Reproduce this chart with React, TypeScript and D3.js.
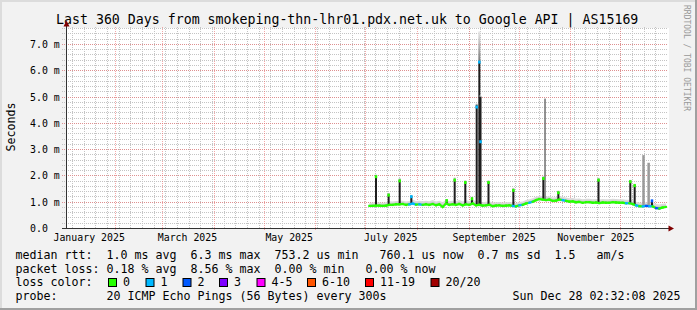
import React from "react";
import * as d3 from "d3";

const W = 697;
const H = 310;
const FONT = "'DejaVu Sans Mono', monospace";

const title = "Last 360 Days from smokeping-thn-lhr01.pdx.net.uk to Google API | AS15169";
const yAxisTitle = "Seconds";
const watermark = "RRDTOOL / TOBI OETIKER";

const windowEnd = "2025-12-28T02:32:08Z";
const windowDays = 360;
const yMax = 7.607;

const yTickValues = [0, 1, 2, 3, 4, 5, 6, 7];
const yTickLabels = ["0.0", "1.0 m", "2.0 m", "3.0 m", "4.0 m", "5.0 m", "6.0 m", "7.0 m"];
const monthLabelDates = ["2025-01-01", "2025-03-01", "2025-05-01", "2025-07-01", "2025-09-01", "2025-11-01"];
const monthLabels = ["January 2025", "March 2025", "May 2025", "July 2025", "September 2025", "November 2025"];

// samples every 2 days from the first data point
const sampleStart = "2025-07-03T02:32:08Z";
const sampleStepDays = 2;
const median = [
  0.86, 0.86, 0.87, 0.87, 0.86, 0.87, 0.90, 0.90, 0.92, 0.92,
  0.93, 0.90, 0.92, 0.95, 0.91, 0.92, 0.90, 0.92, 0.90, 0.93,
  0.89, 0.92, 0.82, 0.95, 0.90, 0.92, 0.90, 0.93, 0.88, 0.92,
  0.90, 0.95, 0.88, 0.90, 0.87, 0.88, 0.90, 0.85, 0.87, 0.88,
  0.86, 0.87, 0.88, 0.86, 0.84, 0.88, 0.90, 0.95, 0.98, 1.02,
  1.08, 1.12, 1.10, 1.08, 1.10, 1.05, 1.06, 1.10, 1.08, 1.05,
  1.02, 1.03, 1.00, 1.01, 0.98, 1.00, 1.00, 0.98, 0.99, 0.97,
  0.99, 0.98, 0.98, 1.00, 0.99, 0.98, 0.98, 0.96, 0.96, 0.93,
  0.88, 0.85, 0.84, 0.86, 0.85, 0.84, 0.78, 0.76, 0.80, 0.82,
];
const smokeHi = [
  0.98, 0.99, 1.00, 0.99, 0.98, 1.00, 1.04, 1.03, 1.05, 1.06,
  1.06, 1.03, 1.05, 1.10, 1.05, 1.06, 1.04, 1.06, 1.04, 1.08,
  1.03, 1.06, 1.00, 1.09, 1.04, 1.06, 1.05, 1.08, 1.03, 1.07,
  1.05, 1.10, 1.03, 1.04, 1.00, 1.02, 1.04, 0.99, 1.00, 1.01,
  0.99, 1.00, 1.01, 0.99, 0.97, 1.01, 1.03, 1.08, 1.11, 1.15,
  1.21, 1.25, 1.24, 1.21, 1.23, 1.18, 1.19, 1.23, 1.21, 1.18,
  1.15, 1.16, 1.13, 1.14, 1.11, 1.13, 1.13, 1.11, 1.12, 1.10,
  1.12, 1.11, 1.11, 1.13, 1.12, 1.11, 1.11, 1.09, 1.09, 1.07,
  1.02, 0.99, 0.98, 1.00, 0.99, 0.98, 0.93, 0.91, 0.94, 0.95,
];
const smokeLo = [
  0.81, 0.81, 0.82, 0.82, 0.81, 0.82, 0.85, 0.85, 0.86, 0.87,
  0.88, 0.85, 0.87, 0.89, 0.86, 0.87, 0.85, 0.87, 0.85, 0.88,
  0.84, 0.87, 0.77, 0.89, 0.85, 0.87, 0.85, 0.88, 0.83, 0.87,
  0.85, 0.89, 0.83, 0.85, 0.82, 0.83, 0.85, 0.80, 0.82, 0.83,
  0.81, 0.82, 0.83, 0.81, 0.79, 0.83, 0.85, 0.90, 0.93, 0.97,
  1.02, 1.06, 1.05, 1.03, 1.04, 1.00, 1.01, 1.04, 1.03, 1.00,
  0.97, 0.98, 0.95, 0.96, 0.93, 0.95, 0.95, 0.93, 0.94, 0.92,
  0.94, 0.93, 0.93, 0.95, 0.94, 0.93, 0.93, 0.91, 0.91, 0.88,
  0.83, 0.80, 0.79, 0.81, 0.80, 0.79, 0.73, 0.71, 0.75, 0.77,
];
const loss = [
  0, 0, 0, 0, 0, 0, 0, 0, 0, 0,
  0, 0, 0, 1, 1, 0, 1, 0, 0, 0,
  0, 0, 0, 0, 0, 0, 0, 0, 0, 0,
  0, 0, 0, 0, 0, 0, 0, 0, 0, 0,
  0, 0, 0, 0, 1, 0, 1, 0, 0, 1,
  0, 0, 0, 0, 0, 0, 0, 0, 0, 1,
  0, 0, 0, 0, 0, 0, 0, 0, 0, 0,
  0, 0, 0, 0, 0, 0, 0, 0, 1, 0,
  0, 1, 0, 1, 2, 1, 0, 2, 0, 0,
];

// latency spikes (days since window start)
const spikeDay = [186.0, 193.6, 200.2, 207.2, 228.4, 233.2, 239.6, 243.6, 246.4, 248.0, 248.7, 253.5, 268.4, 286.4, 287.4, 295.4, 319.5, 338.6, 341.2, 346.5, 349.6, 351.6];
const spikeTop = [1.99, 1.30, 1.84, 1.23, 1.08, 1.86, 1.77, 1.16, 4.69, 6.35, 5.00, 1.77, 1.48, 1.92, 4.94, 1.39, 1.86, 1.80, 1.65, 2.79, 2.50, 1.07];
const spikeFade = [2.06, 1.36, 1.92, 1.28, 1.12, 1.95, 1.84, 1.21, 4.76, 7.50, 5.06, 1.84, 1.55, 2.00, 4.94, 1.45, 1.94, 1.86, 1.71, 2.79, 2.50, 1.10];
const spikeCap = [1.97, 1.27, 1.81, 1.21, 1.06, 1.84, 1.75, 1.13, 4.62, 6.33, 3.30, 1.75, 1.45, 1.90, 0, 1.36, 1.84, 1.78, 1.63, 0, 0, 1.05];
const spikeLoss = [0, 0, 0, 1, 0, 0, 0, 0, 1, 1, 1, 0, 0, 0, 0, 0, 0, 0, 0, 0, 0, 2];
const spikeKind = ["dark", "dark", "dark", "dark", "dark", "dark", "dark", "dark", "dark", "dark", "dark", "dark", "dark", "dark", "thin", "dark", "dark", "dark", "dark", "gray", "gray", "dark"];

const lossLabels = ["0", "1", "2", "3", "4-5", "6-10", "11-19", "20/20"];
const lossColors = ["#26ff00", "#00b8ff", "#0059ff", "#7e00ff", "#ff00ff", "#ff5500", "#ff0000", "#a10000"];
const lossBoxX = [108, 145.5, 182.5, 219, 256.5, 307, 365, 430.5];

const legendRtt = "median rtt:  1.0 ms avg  6.3 ms max  753.2 us min   760.1 us now  0.7 ms sd  1.5   am/s";
const legendLoss = "packet loss: 0.18 % avg  8.56 % max  0.00 % min   0.00 % now";
const legendLossColor = "loss color:";
const legendProbe = "probe:       20 ICMP Echo Pings (56 Bytes) every 300s";
const legendStamp = "Sun Dec 28 02:32:08 2025";

export default function App() {
  const end = new Date(windowEnd);
  const start = d3.utcDay.offset(end, -windowDays);
  const X0 = 66, X1 = 666, Y0 = 228.5, Y1 = 28.5;
  const x = d3.scaleUtc().domain([start, end]).range([X0, X1]);
  const y = d3.scaleLinear().domain([0, yMax]).range([Y0, Y1]);
  const px = (v: number) => Math.floor(v) + 0.5;

  const s0 = new Date(sampleStart);
  const pts = median.map((m, i) => ({
    t: d3.utcHour.offset(s0, i * sampleStepDays * 24),
    m,
    lo: smokeLo[i],
    hi: smokeHi[i],
    loss: loss[i],
  }));

  const area = d3
    .area<any>()
    .x((d) => x(d.t))
    .y0((d) => y(d.lo))
    .y1((d) => y(d.hi));
  const innerArea = d3
    .area<any>()
    .x((d) => x(d.t))
    .y0((d) => y((d.lo + d.m) / 2))
    .y1((d) => y((d.hi + d.m) / 2));
  const line = d3
    .line<any>()
    .x((d) => x(d.t))
    .y((d) => y(d.m));

  const weeks = d3.utcMonday.range(start, end);
  const months = d3.utcMonth.range(start, end);
  const minorY = d3.range(1, 39).map((k) => k * 0.2).filter((v) => v <= yMax);

  const baseAt = (t: Date) => {
    let best = 0;
    let bd = Infinity;
    pts.forEach((p, i) => {
      const dd = Math.abs(+p.t - +t);
      if (dd < bd) {
        bd = dd;
        best = i;
      }
    });
    return pts[best].m;
  };

  const spikes = spikeDay.map((d, i) => {
    const t = d3.utcHour.offset(start, Math.round(d * 24));
    return {
      x: x(t),
      base: baseAt(t),
      top: spikeTop[i],
      fade: spikeFade[i],
      cap: spikeCap[i],
      loss: spikeLoss[i],
      kind: spikeKind[i],
    };
  });

  const textStyle: React.CSSProperties = { whiteSpace: "pre" };

  return (
    <svg width={W} height={H} style={{ position: "absolute", left: 0, top: 0 }} fontFamily={FONT}>
      <defs>
        <linearGradient id="fadeGrad" x1="0" y1="1" x2="0" y2="0">
          <stop offset="0" stopColor="#7a7a7a" />
          <stop offset="1" stopColor="#e8e8e8" />
        </linearGradient>
      </defs>
      <rect x={0} y={0} width={W} height={H} fill="#f2f2f2" />
      <rect x={0} y={0} width={W} height={2} fill="#dcdcdc" />
      <rect x={0} y={0} width={2} height={H} fill="#dcdcdc" />
      <rect x={0} y={H - 2} width={W} height={2} fill="#a0a0a0" />
      <rect x={W - 2} y={0} width={2} height={H} fill="#a0a0a0" />

      <text x={347.2} y={24} textAnchor="middle" fontSize={13.25} fill="#000" style={textStyle}>
        {title}
      </text>

      <rect x={X0} y={Y1 - 0.5} width={X1 - X0 + 3} height={Y0 - Y1 + 0.5} fill="#ffffff" />

      {/* minor grid */}
      <g stroke="#c4c4c4" strokeWidth={1} strokeDasharray="1,1" shapeRendering="crispEdges">
        {weeks.map((w, i) => (
          <line key={"wv" + i} x1={px(x(w))} x2={px(x(w))} y1={Y1 - 2} y2={Y0} />
        ))}
        {minorY.map((v, i) => (
          <line key={"mh" + i} x1={X0 - 4} x2={X1 + 2} y1={px(y(v))} y2={px(y(v))} />
        ))}
      </g>
      {/* major grid */}
      <g stroke="rgba(240,110,110,0.6)" strokeWidth={1} strokeDasharray="1,1" shapeRendering="crispEdges">
        {months.map((m, i) => (
          <line key={"mv" + i} x1={px(x(m))} x2={px(x(m))} y1={Y1 - 2} y2={Y0 + 2} />
        ))}
        {yTickValues.filter((v) => v > 0).map((v, i) => (
          <line key={"Mh" + i} x1={X0 - 4} x2={X1 + 2} y1={px(y(v))} y2={px(y(v))} />
        ))}
      </g>

      {/* smoke */}
      <path d={area(pts) || ""} fill="#dadada" />
      <path d={innerArea(pts) || ""} fill="#c6c6c6" />

      {/* spikes */}
      {spikes.map((s, i) => {
        if (s.kind === "gray" || s.kind === "thin") {
          const w = s.kind === "thin" ? 1.5 : 2.5;
          return (
            <rect
              key={"sp" + i}
              x={s.x - w / 2}
              y={y(s.top)}
              width={w}
              height={y(s.base) - y(s.top)}
              fill={s.kind === "thin" ? "#707070" : "#9a9a9a"}
            />
          );
        }
        return (
          <g key={"sp" + i}>
            <rect x={s.x - 1} y={y(s.fade)} width={2} height={Math.max(0, y(s.top) - y(s.fade))} fill="url(#fadeGrad)" />
            <rect x={s.x - 1} y={y(s.top)} width={2} height={y(s.base) - y(s.top)} fill="#1e1e1e" />
          </g>
        );
      })}

      {/* median line coloured by loss */}
      <g fill="none" strokeWidth={2.2} strokeLinecap="square">
        {pts.slice(1).map((p, i) => (
          <path key={"ml" + i} d={line([pts[i], p]) || ""} stroke={lossColors[p.loss]} />
        ))}
      </g>
      {spikes
        .filter((s) => s.kind === "dark")
        .map((s, i) => (
          <rect key={"cap" + i} x={s.x - 1.25} y={y(s.cap) - 1.5} width={2.5} height={3} fill={lossColors[s.loss]} />
        ))}

      {/* axes */}
      <line x1={X0 + 0.5} x2={X0 + 0.5} y1={Y0} y2={24} stroke="#333" strokeWidth={1} shapeRendering="crispEdges" />
      <path d={`M${X0 - 2.5},26.5 L${X0 + 3.5},26.5 L${X0 + 0.5},20.5 Z`} fill="#800000" />
      <line x1={X0 - 4} x2={X1 + 4} y1={Y0} y2={Y0} stroke="#333" strokeWidth={1} shapeRendering="crispEdges" />
      <path d={`M${X1 + 2.5},${Y0 - 3} L${X1 + 2.5},${Y0 + 3} L${X1 + 8},${Y0} Z`} fill="#800000" />

      {/* y labels */}
      {yTickValues.map((v, i) => (
        <text key={"yl" + i} x={30} y={px(y(v)) + 3.6} fontSize={9.9} fill="#000" style={textStyle}>
          {yTickLabels[i]}
        </text>
      ))}
      {/* x labels */}
      {monthLabelDates.map((d, i) => (
        <text
          key={"xl" + i}
          x={x(d3.utcDay.offset(new Date(d + "T00:00:00Z"), 15))}
          y={241}
          textAnchor="middle"
          fontSize={9.9}
          fill="#000"
          style={textStyle}
        >
          {monthLabels[i]}
        </text>
      ))}

      <text transform="translate(14.5,127) rotate(-90)" textAnchor="middle" fontSize={11.63} fill="#000">
        {yAxisTitle}
      </text>
      <text transform="translate(684,5) rotate(90)" fontSize={8} fill="#999999" style={textStyle}>
        {watermark}
      </text>

      {/* legend */}
      <g fontSize={11.63} fill="#000">
        <text x={15.5} y={259} style={textStyle}>{legendRtt}</text>
        <text x={15.5} y={272.5} style={textStyle}>{legendLoss}</text>
        <text x={15.5} y={286} style={textStyle}>{legendLossColor}</text>
        {lossLabels.map((l, i) => (
          <g key={"lg" + i}>
            <rect x={lossBoxX[i] + 0.5} y={278.5} width={8} height={8} fill={lossColors[i]} stroke="#000" strokeWidth={1} />
            <text x={lossBoxX[i] + 15} y={286} style={textStyle}>{l}</text>
          </g>
        ))}
        <text x={15.5} y={299.5} style={textStyle}>{legendProbe}</text>
        <text x={512.5} y={299.5} style={textStyle}>{legendStamp}</text>
      </g>
    </svg>
  );
}
